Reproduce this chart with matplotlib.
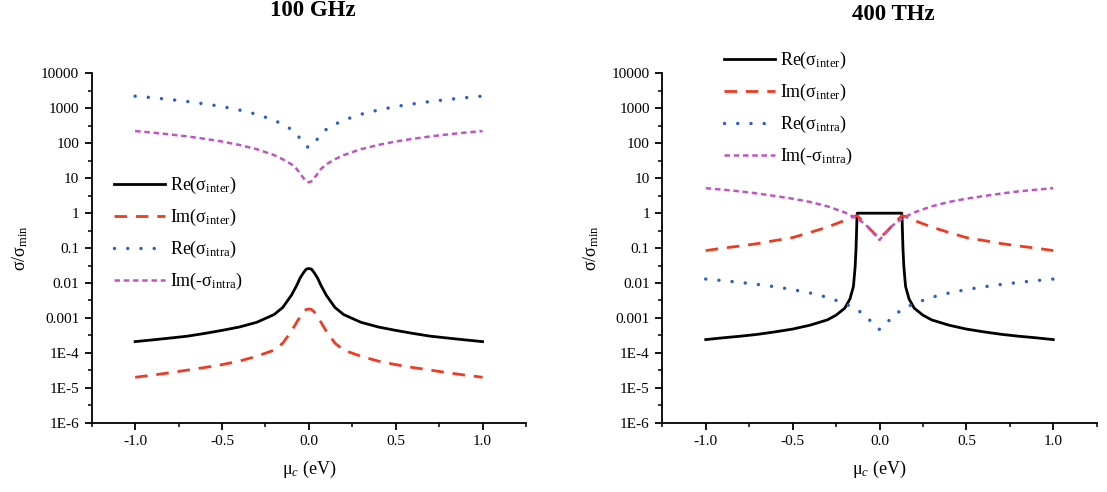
import matplotlib
matplotlib.use("Agg")
import matplotlib.pyplot as plt
from matplotlib.ticker import FixedLocator, FixedFormatter, NullFormatter

plt.rcParams["font.family"] = ["Liberation Serif", "DejaVu Serif"]
plt.rcParams["mathtext.fontset"] = "custom"
plt.rcParams["mathtext.rm"] = "Liberation Serif"
plt.rcParams["mathtext.it"] = "Liberation Serif:italic"

# chemical potential (eV), same grid for every curve
mu = [-1.0, -0.9, -0.8, -0.7, -0.6, -0.5, -0.4, -0.3, -0.2, -0.15, -0.1, -0.07, -0.05, -0.03, -0.015, 0.0,
      0.015, 0.03, 0.05, 0.07, 0.1, 0.15, 0.2, 0.3, 0.4, 0.5, 0.6, 0.7, 0.8, 0.9, 1.0]

# 100 GHz
re_inter_ghz = [2.1e-4, 2.35e-4, 2.65e-4, 3.0e-4, 3.6e-4, 4.4e-4, 5.5e-4, 7.5e-4, 1.25e-3, 2.0e-3, 4.5e-3, 8.5e-3, 0.014, 0.020, 0.025, 0.026,
                0.025, 0.020, 0.014, 8.5e-3, 4.5e-3, 2.0e-3, 1.25e-3, 7.5e-4, 5.5e-4, 4.4e-4, 3.6e-4, 3.0e-4, 2.65e-4, 2.35e-4, 2.1e-4]
im_inter_ghz = [2.0e-5, 2.3e-5, 2.7e-5, 3.2e-5, 3.8e-5, 4.6e-5, 5.8e-5, 8.0e-5, 1.2e-4, 1.9e-4, 4.2e-4, 7.5e-4, 1.1e-3, 1.5e-3, 1.75e-3, 1.8e-3,
                1.75e-3, 1.5e-3, 1.1e-3, 7.5e-4, 4.2e-4, 1.9e-4, 1.2e-4, 8.0e-5, 5.8e-5, 4.6e-5, 3.8e-5, 3.2e-5, 2.7e-5, 2.3e-5, 2.0e-5]
re_intra_ghz = [2250, 2030, 1800, 1580, 1350, 1130, 900, 680, 460, 350, 250, 185, 135, 100, 82, 76,
                82, 100, 135, 185, 250, 350, 460, 680, 900, 1130, 1350, 1580, 1800, 2030, 2250]
im_intra_ghz = [225, 203, 180, 158, 135, 113, 90, 68, 46, 35, 25, 18.5, 13.5, 10.0, 8.2, 7.6,
                8.2, 10.0, 13.5, 18.5, 25, 35, 46, 68, 90, 113, 135, 158, 180, 203, 225]

# 400 THz (Re inter has a near-vertical step at |mu| ~ 0.13 eV)
mu_step = [-1.0, -0.9, -0.8, -0.7, -0.6, -0.5, -0.4, -0.3, -0.25, -0.2, -0.17, -0.15, -0.14, -0.135, -0.132, -0.13, -0.128, 0.0,
           0.128, 0.13, 0.132, 0.135, 0.14, 0.15, 0.17, 0.2, 0.25, 0.3, 0.4, 0.5, 0.6, 0.7, 0.8, 0.9, 1.0]
re_inter_thz = [2.4e-4, 2.7e-4, 3.0e-4, 3.4e-4, 4.0e-4, 4.8e-4, 6.2e-4, 8.8e-4, 1.2e-3, 1.9e-3, 3.5e-3, 8e-3, 0.03, 0.1, 0.3, 0.7, 1.0, 1.0,
                1.0, 0.7, 0.3, 0.1, 0.03, 8e-3, 3.5e-3, 1.9e-3, 1.2e-3, 8.8e-4, 6.2e-4, 4.8e-4, 4.0e-4, 3.4e-4, 3.0e-4, 2.7e-4, 2.4e-4]
mu_im = [-1.0, -0.9, -0.8, -0.7, -0.6, -0.5, -0.4, -0.3, -0.2, -0.15, -0.13, -0.1, -0.05, 0.0,
         0.05, 0.1, 0.13, 0.15, 0.2, 0.3, 0.4, 0.5, 0.6, 0.7, 0.8, 0.9, 1.0]
im_inter_thz = [0.085, 0.1, 0.115, 0.135, 0.165, 0.2, 0.28, 0.4, 0.62, 0.8, 0.85, 0.62, 0.33, 0.19,
                0.33, 0.62, 0.85, 0.8, 0.62, 0.4, 0.28, 0.2, 0.165, 0.135, 0.115, 0.1, 0.085]
re_intra_thz = [0.013, 0.0117, 0.0104, 0.0091, 0.0078, 0.0065, 0.0052, 0.0039, 0.0026, 0.00196, 0.00138, 0.00104, 0.00079, 0.00062, 0.00052, 0.00047,
                0.00052, 0.00062, 0.00079, 0.00104, 0.00138, 0.00196, 0.0026, 0.0039, 0.0052, 0.0065, 0.0078, 0.0091, 0.0104, 0.0117, 0.013]
im_intra_thz = [5.2, 4.7, 4.2, 3.65, 3.1, 2.6, 2.1, 1.57, 1.05, 0.79, 0.56, 0.42, 0.32, 0.25, 0.21, 0.17,
                0.21, 0.25, 0.32, 0.42, 0.56, 0.79, 1.05, 1.57, 2.1, 2.6, 3.1, 3.65, 4.2, 4.7, 5.2]

y_ticks = [1e-6, 1e-5, 1e-4, 1e-3, 1e-2, 1e-1, 1, 10, 100, 1000, 10000]
y_labels = ["1E-6", "1E-5", "1E-4", "0.001", "0.01", "0.1", "1", "10", "100", "1000", "10000"]
x_ticks = [-1.0, -0.5, 0.0, 0.5, 1.0]
x_labels = ["-1.0", "-0.5", "0.0", "0.5", "1.0"]

labels = ["Re(σ$_{\\rm inter}$)", "Im(σ$_{\\rm inter}$)", "Re(σ$_{\\rm intra}$)", "Im(-σ$_{\\rm intra}$)"]
c_black = "black"
c_red = "#f03a22"
c_blue = "#2f5fc8"
c_mag = "#c054c4"

W, H = 1107, 492
fig = plt.figure(figsize=(W / 100, H / 100), dpi=100)


def setup(ax):
    ax.set_yscale("log")
    ax.set_xlim(-1.25, 1.25)
    ax.set_ylim(1e-6, 1e4)
    for s in ["top", "right"]:
        ax.spines[s].set_visible(False)
    for s in ["left", "bottom"]:
        ax.spines[s].set_linewidth(1.3)
    ax.yaxis.set_major_locator(FixedLocator(y_ticks))
    ax.yaxis.set_major_formatter(FixedFormatter(y_labels))
    ax.yaxis.set_minor_locator(FixedLocator([10 ** (k + 0.5) for k in range(-6, 4)]))
    ax.yaxis.set_minor_formatter(NullFormatter())
    ax.xaxis.set_major_locator(FixedLocator(x_ticks))
    ax.xaxis.set_major_formatter(FixedFormatter(x_labels))
    ax.xaxis.set_minor_locator(FixedLocator([-1.25, -0.75, -0.25, 0.25, 0.75, 1.25]))
    ax.tick_params(which="major", direction="out", length=5, width=1.3, labelsize=11, pad=4)
    ax.tick_params(which="minor", direction="out", length=3, width=1.1)
    ax.set_ylabel("σ/σ$_{\\rm min}$", fontsize=13, labelpad=8)
    ax.set_xlabel("μ$_c$ (eV)", fontsize=13, labelpad=8)


def draw(ax, x_re, re_inter, x_im, im_inter, re_intra, im_intra):
    ax.plot(x_re, re_inter, color=c_black, lw=2.0, label=labels[0])
    ax.plot(x_im, im_inter, color=c_red, lw=2.0, linestyle=(0, (4.5, 3.2)), label=labels[1])
    ax.plot(mu, re_intra, color=c_blue, lw=2.5, linestyle=(0, (0.01, 3.8)), dash_capstyle="round", label=labels[2])
    ax.plot(mu, im_intra, color=c_mag, lw=1.8, linestyle=(0, (2.2, 1.5)), label=labels[3])


leg_kw = dict(frameon=False, fontsize=13, handlelength=2.8, handletextpad=0.3, labelspacing=0.6,
              borderpad=0, borderaxespad=0)

ax1 = fig.add_axes([91.7 / W, 1 - 422.7 / H, 434.3 / W, 349.2 / H])
setup(ax1)
draw(ax1, mu, re_inter_ghz, mu, im_inter_ghz, re_intra_ghz, im_intra_ghz)
ax1.legend(loc="upper left", bbox_to_anchor=(114 / W, 1 - 175 / H), bbox_transform=fig.transFigure, **leg_kw)

ax2 = fig.add_axes([662.3 / W, 1 - 422.7 / H, 434.4 / W, 349.2 / H])
setup(ax2)
draw(ax2, mu_step, re_inter_thz, mu_im, im_inter_thz, re_intra_thz, im_intra_thz)
ax2.legend(loc="upper left", bbox_to_anchor=(724 / W, 1 - 50 / H), bbox_transform=fig.transFigure, **leg_kw)

fig.text(313 / W, 1 - 11 / H, "100 GHz", ha="center", va="center", fontsize=16.5, fontweight="bold")
fig.text(893 / W, 1 - 14 / H, "400 THz", ha="center", va="center", fontsize=16.5, fontweight="bold")

fig.savefig("out.png", dpi=100)
